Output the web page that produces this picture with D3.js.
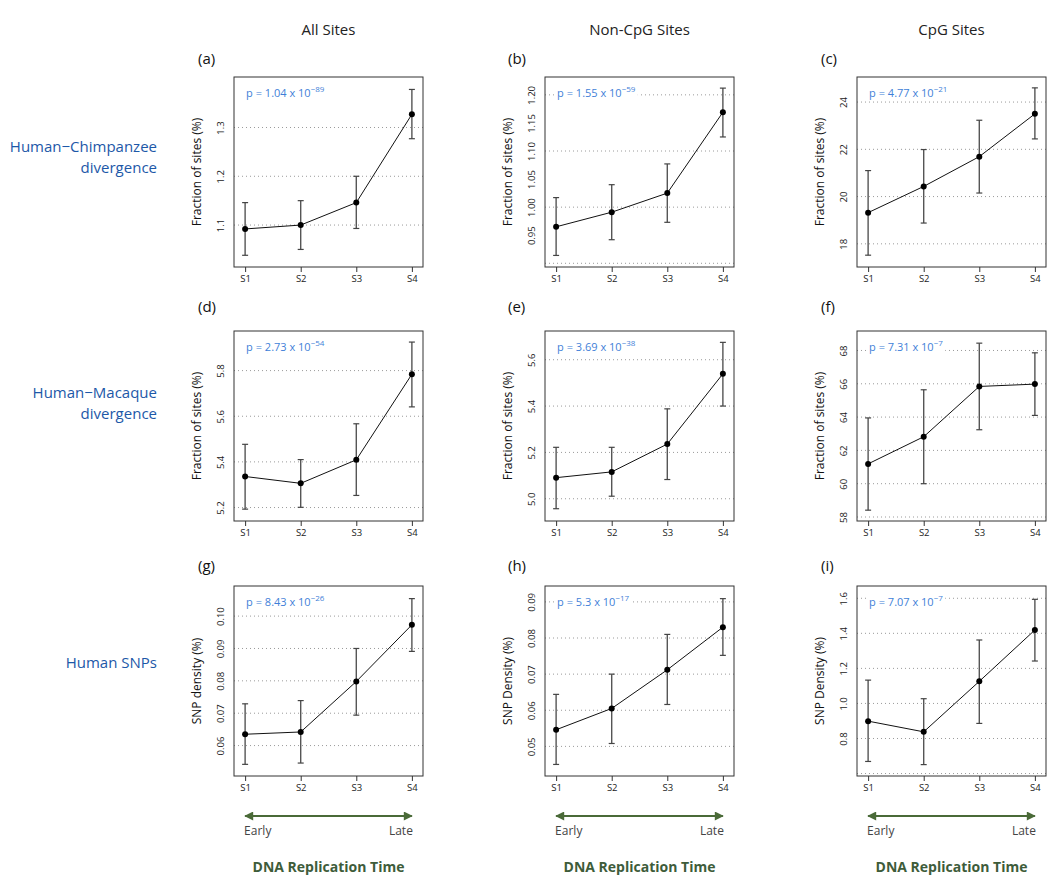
<!DOCTYPE html>
<html>
<head>
<meta charset="utf-8">
<script src="https://cdn.jsdelivr.net/npm/d3@7"></script>
<style>
  html, body { margin: 0; padding: 0; background: #fff; }
  svg { display: block; font-family: "Open Sans", "DejaVu Sans", sans-serif; }
</style>
</head>
<body>
<svg id="chart" width="1050" height="879"></svg>
<script>
// ---------------- DATA ----------------
const categories = ["S1", "S2", "S3", "S4"];
const columnTitles = ["All Sites", "Non-CpG Sites", "CpG Sites"];
const rowTitles = [["Human\u2212Chimpanzee", "divergence"], ["Human\u2212Macaque", "divergence"], ["Human SNPs"]];
const panelLetters = ["(a)", "(b)", "(c)", "(d)", "(e)", "(f)", "(g)", "(h)", "(i)"];
const yTitles = ["Fraction of sites (%)", "Fraction of sites (%)", "Fraction of sites (%)",
                 "Fraction of sites (%)", "Fraction of sites (%)", "Fraction of sites (%)",
                 "SNP density (%)", "SNP Density (%)", "SNP Density (%)"];
const pMantissa = ["1.04", "1.55", "4.77", "2.73", "3.69", "7.31", "8.43", "5.3", "7.07"];
const pExponent = ["\u221289", "\u221259", "\u221221", "\u221254", "\u221238", "\u22127", "\u221226", "\u221217", "\u22127"];

// (a) All sites, Human-Chimp
const meanA = [1.092, 1.100, 1.146, 1.327];
const lowA  = [1.038, 1.050, 1.093, 1.277];
const highA = [1.146, 1.150, 1.200, 1.378];
// (b) Non-CpG, Human-Chimp
const meanB = [0.965, 0.991, 1.025, 1.169];
const lowB  = [0.914, 0.942, 0.973, 1.125];
const highB = [1.017, 1.040, 1.077, 1.212];
// (c) CpG, Human-Chimp
const meanC = [19.32, 20.43, 21.69, 23.50];
const lowC  = [17.52, 18.88, 20.15, 22.44];
const highC = [21.10, 21.99, 23.23, 24.60];
// (d) All sites, Human-Macaque
const meanD = [5.336, 5.306, 5.409, 5.784];
const lowD  = [5.193, 5.201, 5.253, 5.641];
const highD = [5.477, 5.410, 5.567, 5.925];
// (e) Non-CpG, Human-Macaque
const meanE = [5.091, 5.116, 5.236, 5.539];
const lowE  = [4.957, 5.011, 5.083, 5.400];
const highE = [5.222, 5.222, 5.388, 5.675];
// (f) CpG, Human-Macaque
const meanF = [61.19, 62.82, 65.84, 65.98];
const lowF  = [58.41, 60.00, 63.24, 64.10];
const highF = [63.95, 65.64, 68.44, 67.86];
// (g) All sites, SNPs
const meanG = [0.0635, 0.0642, 0.0798, 0.0973];
const lowG  = [0.0542, 0.0546, 0.0694, 0.0891];
const highG = [0.0729, 0.0739, 0.0900, 0.1054];
// (h) Non-CpG, SNPs
const meanH = [0.0546, 0.0605, 0.0712, 0.0830];
const lowH  = [0.0450, 0.0508, 0.0616, 0.0752];
const highH = [0.0644, 0.0700, 0.0810, 0.0909];
// (i) CpG, SNPs
const meanI = [0.899, 0.838, 1.126, 1.419];
const lowI  = [0.669, 0.651, 0.886, 1.242];
const highI = [1.133, 1.027, 1.362, 1.594];

// y-axis ranges, tick labels and dotted reference lines
const yDomains = [[1.014, 1.4035], [0.8934, 1.2318], [17.02, 25.06],
                  [5.141, 5.9735], [4.904, 5.724], [57.76, 69.17],
                  [0.0506, 0.1093], [0.0418, 0.0944], [0.586, 1.670]];
const yTickLabels = [["1.1", "1.2", "1.3"],
                     ["0.95", "1.00", "1.05", "1.10", "1.15", "1.20"],
                     ["18", "20", "22", "24"],
                     ["5.2", "5.4", "5.6", "5.8"],
                     ["5.0", "5.2", "5.4", "5.6"],
                     ["58", "60", "62", "64", "66", "68"],
                     ["0.06", "0.07", "0.08", "0.09", "0.10"],
                     ["0.05", "0.06", "0.07", "0.08", "0.09"],
                     ["0.8", "1.0", "1.2", "1.4", "1.6"]];
const gridValues = [[1.1, 1.2, 1.3],
                    [0.9, 1.0, 1.1, 1.2],
                    [18, 20, 22, 24],
                    [5.2, 5.4, 5.6, 5.8],
                    [5.0, 5.2, 5.4, 5.6],
                    [58, 60, 62, 64, 66, 68],
                    [0.06, 0.07, 0.08, 0.09, 0.10],
                    [0.05, 0.06, 0.07, 0.08, 0.09],
                    [0.6, 0.8, 1.0, 1.2, 1.4, 1.6]];
const arrowLabels = ["Early", "Late"];
const footerTitle = "DNA Replication Time";

const means = [meanA, meanB, meanC, meanD, meanE, meanF, meanG, meanH, meanI];
const lows  = [lowA, lowB, lowC, lowD, lowE, lowF, lowG, lowH, lowI];
const highs = [highA, highB, highC, highD, highE, highF, highG, highH, highI];

// ---------------- LAYOUT ----------------
const colX = [234, 545, 857];
const rowY = [77, 331, 586];
const W = 189, H = 190;
const letterX = [198, 508, 821];
const letterY = [64, 312, 571];
const blue = "#1d58a8";
const pBlue = "#3f7fd8";
const green = "#4a6a38";
const greenText = "#3e5c3a";

const svg = d3.select("#chart");

// column headers
svg.selectAll("text.colTitle").data(columnTitles).enter().append("text")
  .attr("class", "colTitle")
  .attr("x", (d, i) => colX[i] + W / 2)
  .attr("y", 35)
  .attr("text-anchor", "middle")
  .attr("font-size", 15)
  .attr("fill", "#222")
  .text(d => d);

// row titles
const rowTitleY = [[151.5, 172.5], [398, 419], [668]];
rowTitles.forEach((lines, r) => {
  lines.forEach((ln, k) => {
    svg.append("text")
      .attr("x", 157)
      .attr("y", rowTitleY[r][k])
      .attr("text-anchor", "end")
      .attr("font-size", 15)
      .attr("fill", blue)
      .text(ln);
  });
});

const x = d3.scaleLinear().domain([0.8, 4.2]).range([0, W]);

for (let idx = 0; idx < 9; idx++) {
  const r = Math.floor(idx / 3), c = idx % 3;
  const g = svg.append("g").attr("transform", `translate(${colX[c]},${rowY[r]})`);
  const y = d3.scaleLinear().domain(yDomains[idx]).range([H, 0]);

  // panel letter
  svg.append("text")
    .attr("x", letterX[c]).attr("y", letterY[r])
    .attr("font-size", 15).attr("fill", "#111")
    .text(panelLetters[idx]);

  // grid lines
  g.selectAll("line.grid").data(gridValues[idx]).enter().append("line")
    .attr("class", "grid")
    .attr("x1", 0).attr("x2", W)
    .attr("y1", d => y(d)).attr("y2", d => y(d))
    .attr("stroke", "#9a9a9a").attr("stroke-width", 1)
    .attr("stroke-dasharray", "1,3");

  // p-value label with white backing
  const pg = g.append("g");
  const pt = pg.append("text")
    .attr("x", x(1) + 1).attr("y", 20)
    .attr("font-size", 11).attr("fill", pBlue);
  pt.append("tspan").text("p = " + pMantissa[idx] + " x 10");
  pt.append("tspan").attr("dy", -5).attr("font-size", 8).text(pExponent[idx]);
  const bb = pt.node().getBBox();
  pg.insert("rect", "text")
    .attr("x", bb.x - 2).attr("y", bb.y - 1)
    .attr("width", bb.width + 4).attr("height", bb.height + 2)
    .attr("fill", "#fff");

  // error bars
  const eb = g.selectAll("g.err").data(categories).enter().append("g").attr("class", "err");
  eb.append("line")
    .attr("x1", (d, i) => x(i + 1)).attr("x2", (d, i) => x(i + 1))
    .attr("y1", (d, i) => y(lows[idx][i])).attr("y2", (d, i) => y(highs[idx][i]))
    .attr("stroke", "#555").attr("stroke-width", 1.4);
  eb.append("line")
    .attr("x1", (d, i) => x(i + 1) - 3).attr("x2", (d, i) => x(i + 1) + 3)
    .attr("y1", (d, i) => y(lows[idx][i])).attr("y2", (d, i) => y(lows[idx][i]))
    .attr("stroke", "#444").attr("stroke-width", 1.2);
  eb.append("line")
    .attr("x1", (d, i) => x(i + 1) - 3).attr("x2", (d, i) => x(i + 1) + 3)
    .attr("y1", (d, i) => y(highs[idx][i])).attr("y2", (d, i) => y(highs[idx][i]))
    .attr("stroke", "#444").attr("stroke-width", 1.2);

  // connecting line
  const line = d3.line().x((d, i) => x(i + 1)).y(d => y(d));
  g.append("path").datum(means[idx])
    .attr("d", line).attr("fill", "none")
    .attr("stroke", "#111").attr("stroke-width", 1);

  // points
  g.selectAll("circle.pt").data(means[idx]).enter().append("circle")
    .attr("class", "pt")
    .attr("cx", (d, i) => x(i + 1)).attr("cy", d => y(d))
    .attr("r", 3).attr("fill", "#000");

  // box
  g.append("rect").attr("x", 0).attr("y", 0).attr("width", W).attr("height", H)
    .attr("fill", "none").attr("stroke", "#333").attr("stroke-width", 1);

  // x axis
  const xAxis = d3.axisBottom(x)
    .tickValues([1, 2, 3, 4])
    .tickFormat((d, i) => categories[i])
    .tickSize(5).tickPadding(3);
  const xa = g.append("g").attr("transform", `translate(0,${H})`).call(xAxis);
  xa.select(".domain").remove();
  xa.selectAll(".tick line").attr("stroke", "#333");
  xa.selectAll(".tick text").attr("font-size", 9.5).attr("fill", "#222")
    .attr("font-family", "Open Sans, sans-serif");

  // y axis (rotated labels, no tick marks)
  const labelVals = yTickLabels[idx].map(Number);
  const yAxis = d3.axisLeft(y)
    .tickValues(labelVals)
    .tickFormat((d, i) => yTickLabels[idx][i])
    .tickSize(0);
  const ya = g.append("g").call(yAxis);
  ya.select(".domain").remove();
  ya.selectAll(".tick text")
    .attr("transform", "rotate(-90)")
    .attr("x", 0).attr("y", -10).attr("dy", 0)
    .attr("text-anchor", "middle")
    .attr("font-size", 9.5).attr("fill", "#222")
    .attr("font-family", "Open Sans, sans-serif");

  // y title
  g.append("text")
    .attr("transform", `translate(${-33},${H / 2}) rotate(-90)`)
    .attr("text-anchor", "middle")
    .attr("font-size", 12).attr("fill", "#111")
    .text(yTitles[idx]);

  // bottom row: arrow and replication-time annotation
  if (r === 2) {
    const defsId = "ah" + idx;
    const defs = svg.append("defs");
    defs.append("marker").attr("id", defsId + "e")
      .attr("viewBox", "0 0 10 10").attr("refX", 9).attr("refY", 5)
      .attr("markerWidth", 5).attr("markerHeight", 4.5).attr("orient", "auto")
      .attr("markerUnits", "strokeWidth")
      .append("path").attr("d", "M0,0 L10,5 L0,10 z").attr("fill", green);
    defs.append("marker").attr("id", defsId + "s")
      .attr("viewBox", "0 0 10 10").attr("refX", 1).attr("refY", 5)
      .attr("markerWidth", 5).attr("markerHeight", 4.5).attr("orient", "auto")
      .attr("markerUnits", "strokeWidth")
      .append("path").attr("d", "M10,0 L0,5 L10,10 z").attr("fill", green);
    g.append("line")
      .attr("x1", x(1)).attr("x2", x(4))
      .attr("y1", H + 40).attr("y2", H + 40)
      .attr("stroke", green).attr("stroke-width", 2)
      .attr("marker-start", `url(#${defsId}s)`)
      .attr("marker-end", `url(#${defsId}e)`);
    g.append("text").attr("x", x(1) - 1).attr("y", H + 59)
      .attr("font-size", 12).attr("fill", "#444").text(arrowLabels[0]);
    g.append("text").attr("x", x(4) + 1).attr("y", H + 59)
      .attr("text-anchor", "end")
      .attr("font-size", 12).attr("fill", "#444").text(arrowLabels[1]);
    g.append("text").attr("x", W / 2).attr("y", H + 96)
      .attr("text-anchor", "middle")
      .attr("font-size", 14).attr("font-weight", "bold").attr("fill", greenText)
      .text(footerTitle);
  }
}
</script>
</body>
</html>
